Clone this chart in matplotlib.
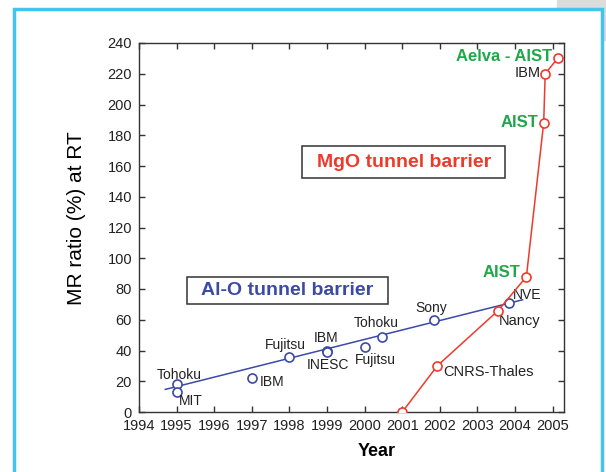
import matplotlib
matplotlib.use("Agg")
import matplotlib.pyplot as plt
from matplotlib.patches import Rectangle

plt.rcParams['font.family'] = ['Liberation Sans', 'DejaVu Sans']

# Al-O tunnel barrier (blue)
alo_years = [1995.0, 1995.0, 1997.0, 1998.0, 1999.0, 1999.0, 2000.0, 2000.45, 2001.85, 2003.85]
alo_mr = [18, 13, 22, 36, 40, 39, 42, 49, 60, 71]
alo_names = ['Tohoku', 'MIT', 'IBM', 'Fujitsu', 'IBM', 'INESC', 'Fujitsu', 'Tohoku', 'Sony', 'NVE']
# label anchors (left edge, centre) for the Al-O points
alo_lab_x = [1994.48, 1995.07, 1997.2, 1997.35, 1998.65, 1998.47, 1999.75, 1999.72, 2001.34, 2003.95]
alo_lab_y = [24, 7.3, 19.7, 43.5, 48, 30.5, 34, 58, 67.5, 76]
# fitted trend line
alo_fit_x = [1994.7, 2004.2]
alo_fit_y = [14.7, 73]

# MgO tunnel barrier (red)
mgo_years = [2001.0, 2001.93, 2003.55, 2004.3, 2004.76, 2004.8, 2005.13]
mgo_mr = [0, 30, 66, 88, 188, 220, 230]
mgo_names = ['', 'CNRS-Thales', 'Nancy', 'AIST', 'AIST', 'IBM', 'Aelva - AIST']
mgo_green = [False, False, False, True, True, False, True]

blue = '#3b4ba3'
red = '#ee3a2c'
green = '#1fa84a'

fig = plt.figure(figsize=(6.06, 4.72), dpi=100)

# page background: grey corner and light blue frame
fig.patches.append(Rectangle((557 / 606, 1 - 40 / 472), 49 / 606, 40 / 472,
                             transform=fig.transFigure, color='#dcdcdc', zorder=-2))
fig.patches.append(Rectangle((14 / 606, -0.05), 587.5 / 606, 1.05 - 9 / 472,
                             transform=fig.transFigure, facecolor='white',
                             edgecolor='#45c3ef', lw=2.5, zorder=-1))

ax = fig.add_axes([139 / 606, 60 / 472, 425 / 606, 369 / 472])
ax.set_zorder(5)
ax.set_facecolor('white')

ax.plot(alo_fit_x, alo_fit_y, color=blue, lw=1.1, zorder=2)
ax.plot(alo_years, alo_mr, 'o', ms=6.5, mfc='white', mec=blue, mew=1.2, zorder=3)
ax.plot(mgo_years, mgo_mr, '-o', color=red, lw=1.1, ms=6.5, mfc='white', mec=red, mew=1.2, zorder=4)

for name, x, y in zip(alo_names, alo_lab_x, alo_lab_y):
    ax.text(x, y, name, fontsize=10, color='#222222', ha='left', va='center')

# MgO labels
mgo_lab = {1: (2002.1, 26, 'left'), 2: (2003.57, 59, 'left'), 3: (2004.15, 90.5, 'right'),
           4: (2004.62, 188.5, 'right'), 5: (2004.68, 220.5, 'right'), 6: (2004.98, 231.5, 'right')}
for i, (x, y, ha) in mgo_lab.items():
    if mgo_green[i]:
        ax.text(x, y, mgo_names[i], fontsize=12, fontweight='bold', color=green, ha=ha, va='center')
    else:
        ax.text(x, y, mgo_names[i], fontsize=10.5, color='#222222', ha=ha, va='center')

# boxed titles
ax.add_patch(Rectangle((1995.27, 70.5), 5.35, 17.5, facecolor='white', edgecolor='#333333', lw=1.1, zorder=1))
ax.text(1997.95, 79.2, 'Al-O tunnel barrier', fontsize=14, fontweight='bold', color=blue,
        ha='center', va='center')
ax.add_patch(Rectangle((1998.33, 152), 5.4, 20.8, facecolor='white', edgecolor='#333333', lw=1.1, zorder=1))
ax.text(2001.05, 162, 'MgO tunnel barrier', fontsize=14, fontweight='bold', color=red,
        ha='center', va='center')

ax.set_xlim(1994, 2005.3)
ax.set_ylim(0, 240)
ax.set_xticks(range(1994, 2006))
ax.set_yticks(range(0, 241, 20))
ax.tick_params(direction='in', top=True, right=True, labelsize=10.5, length=4, width=1,
               colors='#333333', labelcolor='#222222', pad=5)
for s in ax.spines.values():
    s.set_color('#333333')
    s.set_linewidth(1.0)

ax.set_xlabel('Year', fontsize=13, fontweight='bold')
ax.xaxis.set_label_coords(0.56, -0.085)
ax.set_ylabel('MR ratio (%) at RT', fontsize=15)
ax.yaxis.set_label_coords(-0.125, 0.525)

fig.savefig('out.png', dpi=100)
